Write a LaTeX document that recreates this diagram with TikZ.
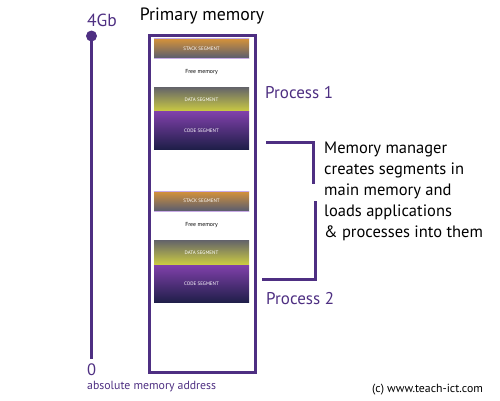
\documentclass[tikz,border=0pt]{standalone}
\usepackage{fontspec}
\setmainfont{PT Sans}
\definecolor{mpurple}{RGB}{78,47,130}
\definecolor{lav}{RGB}{200,170,230}
\definecolor{stacktop}{RGB}{212,146,58}
\definecolor{stackbot}{RGB}{88,92,112}
\definecolor{datatop}{RGB}{100,100,105}
\definecolor{databot}{RGB}{205,205,65}
\definecolor{codetop}{RGB}{128,64,170}
\definecolor{codebot}{RGB}{30,30,72}
\begin{document}
\begin{tikzpicture}[x=1pt,y=-1pt,
  seg/.style={inner sep=0pt, minimum width=95pt, text=white,
    font=\fontsize{5}{6}\selectfont},
  stackseg/.style={seg, minimum height=19.6pt, top color=stacktop, bottom color=stackbot},
  dataseg/.style={seg, minimum height=24.4pt, top color=datatop, bottom color=databot},
  codeseg/.style={seg, minimum height=37.8pt, top color=codetop, bottom color=codebot},
  freetxt/.style={inner sep=0pt, font=\fontsize{5.8}{7}\selectfont},
  purp/.style={text=mpurple, inner sep=0pt},
  pline/.style={draw=mpurple, line width=3pt},
  lavline/.style={draw=lav, line width=0.7pt}]
\useasboundingbox (0,0) rectangle (500,400);

% title
\node[inner sep=0pt, font=\fontsize{17.8}{21}\selectfont] (title) at (202,16) {Primary memory};

% memory box
\node[draw=mpurple, line width=3pt, minimum width=106pt, minimum height=337pt, inner sep=0pt] (box) at (202.5,203.5) {};

% process 1 segments
\node[stackseg] (s1) at (201.5,48.5) {STACK SEGMENT};
\draw[lavline] (s1.north west) -- (s1.north east);
\draw[lavline] (s1.south west) -- (s1.south east);
\node[freetxt] (f1) at (201.5,72) {Free memory};
\node[dataseg] (d1) at (201.5,99.5) {DATA SEGMENT};
\node[codeseg] (c1) at (201.5,130.5) {CODE SEGMENT};

% process 2 segments
\node[stackseg] (s2) at (201.5,201.2) {STACK SEGMENT};
\draw[lavline] (s2.north west) -- (s2.north east);
\draw[lavline] (s2.south west) -- (s2.south east);
\node[freetxt] (f2) at (201.5,225) {Free memory};
\node[dataseg] (d2) at (201.5,252.6) {DATA SEGMENT};
\node[codeseg] (c2) at (201.5,284) {CODE SEGMENT};

% labels
\node[purp, anchor=west, font=\fontsize{17}{20}\selectfont] (p1) at (265,93) {Process 1};
\node[purp, anchor=west, font=\fontsize{17}{20}\selectfont] (p2) at (266,299) {Process 2};

% bracket
\coordinate (b1) at (266,142);
\coordinate (b2) at (313.5,142);
\coordinate (b3) at (313.5,184);
\coordinate (b4) at (315,201);
\coordinate (b5) at (315,279);
\coordinate (b6) at (262,279);
\draw[pline, line join=miter] (b1) -- (b2) -- (b3);
\draw[pline, line join=miter] (b4) -- (b5) -- (b6);

\node[anchor=west, align=left, inner sep=0pt, font=\fontsize{16.5}{21}\selectfont] (mm) at (324,191)
  {Memory manager\\creates segments in\\main memory and\\loads applications\\\& processes into them};

% axis
\node[circle, fill=mpurple, minimum size=11pt, inner sep=0pt] (top) at (91.5,36) {};
\coordinate (axbot) at (91.5,359);
\draw[pline] (top.center) -- (axbot);
\node[purp, anchor=west, font=\fontsize{17.5}{20}\selectfont] (g4) at (87,20) {4Gb};
\node[purp, anchor=west, font=\fontsize{16.5}{19}\selectfont, text depth=0pt] (zero) at (87,370) {0};
\node[purp, anchor=west, font=\fontsize{11.8}{14}\selectfont] (abs) at (87,386.5) {absolute memory address};
\node[anchor=west, inner sep=0pt, font=\fontsize{11.8}{14}\selectfont] (copy) at (372,390) {(c) www.teach-ict.com};
\end{tikzpicture}
\end{document}
